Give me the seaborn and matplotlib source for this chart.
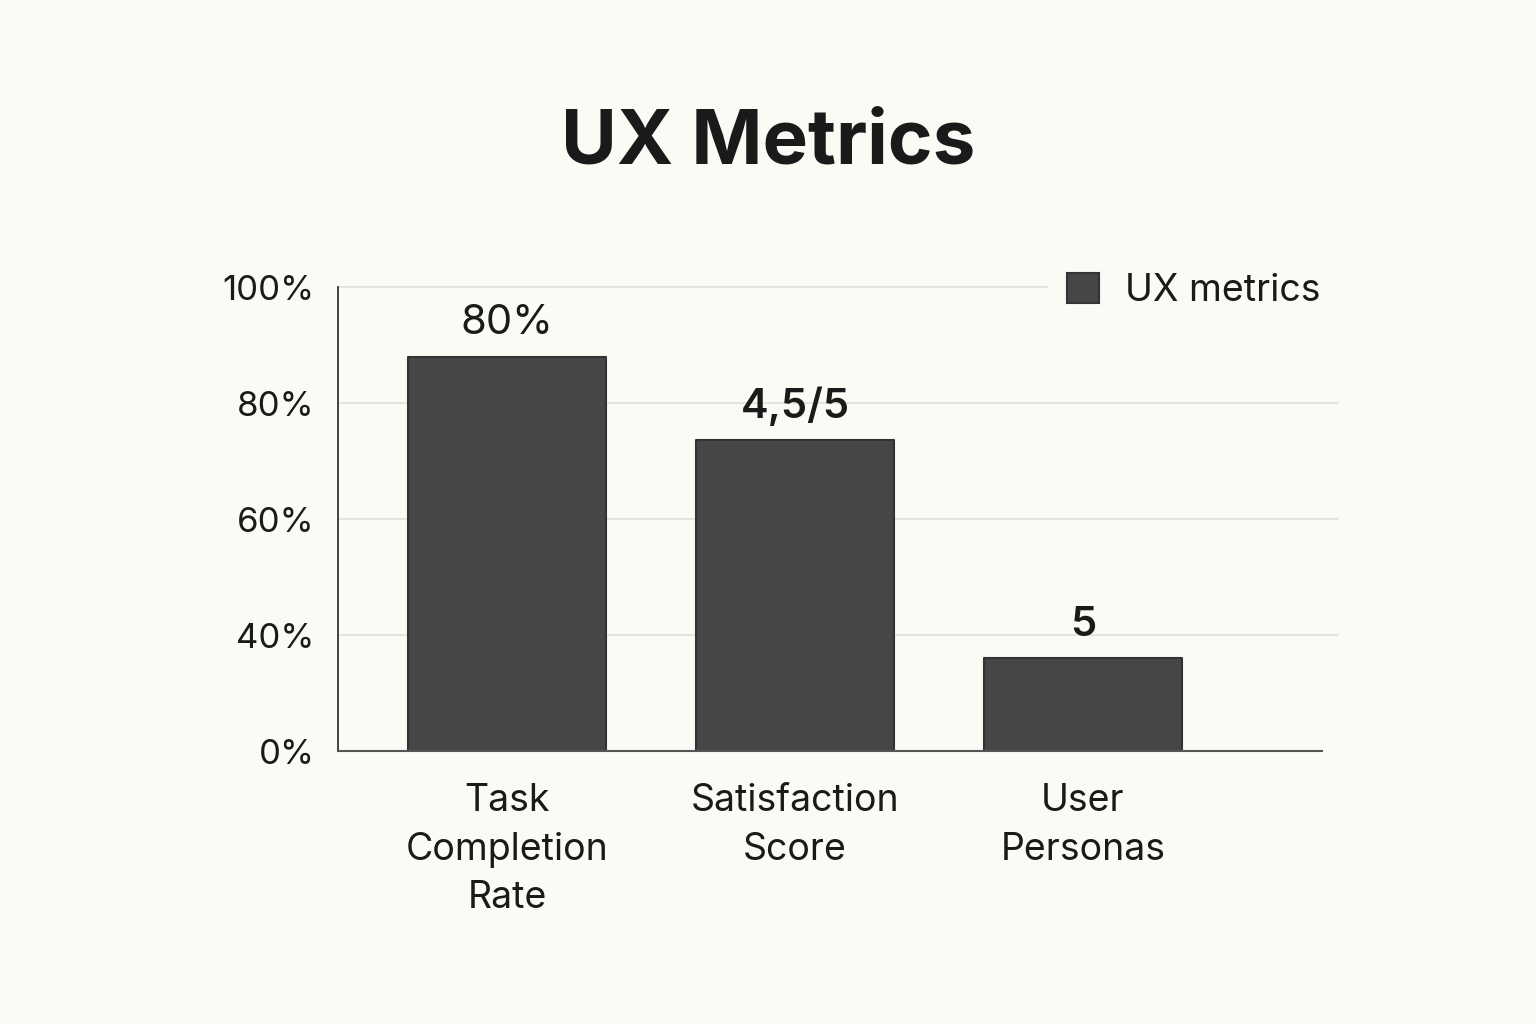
import matplotlib
matplotlib.use('Agg')
import matplotlib.pyplot as plt
import seaborn as sns

categories = ['Task\nCompletion\nRate', 'Satisfaction\nScore', 'User\nPersonas']
values = [85, 67, 20]
bar_labels = ['80%', '4,5/5', '5']
label_weights = ['normal', 'semibold', 'semibold']
tick_positions = [0, 25, 50, 75, 100]
tick_labels = ['0%', '40%', '60%', '80%', '100%']
series_name = 'UX metrics'

bg = '#fbfaf5'
bar_color = '#464646'
text_color = '#1a1a1a'

sns.set_theme(style='white')
plt.rcParams['font.family'] = ['Inter', 'DejaVu Sans']

fig = plt.figure(figsize=(15.36, 10.24), dpi=100, facecolor=bg)
ax = fig.add_axes([338 / 1536, 1 - 751 / 1024, (1322 - 338) / 1536, (751 - 287) / 1024])
ax.set_facecolor(bg)

sns.barplot(x=categories, y=values, color=bar_color, width=0.69, ax=ax,
            label=series_name, edgecolor='#333333', linewidth=1.5, zorder=3)
for p in ax.patches:
    p.set_joinstyle('round')

ax.set_xlim(-0.587, 2.83)
ax.set_ylim(0, 100)
ax.set_yticks(tick_positions)
ax.set_yticklabels(tick_labels)

# light gridlines that run a bit past the axis end
for t in tick_positions[1:]:
    ax.axhline(t, xmin=0, xmax=1.016, color='#e2e1dc', lw=1.3, zorder=0, clip_on=False)

for sp in ['top', 'right']:
    ax.spines[sp].set_visible(False)
ax.spines['left'].set_color('#222222')
ax.spines['left'].set_linewidth(1.2)
ax.spines['bottom'].set_color('#555555')
ax.spines['bottom'].set_linewidth(1.5)
ax.spines['bottom'].set_zorder(4)

ax.tick_params(axis='y', length=0, pad=17, labelsize=25, labelcolor=text_color)
ax.tick_params(axis='x', length=0, pad=23, labelcolor=text_color)
for lbl in ax.get_xticklabels():
    lbl.set_fontsize(27)
    lbl.set_linespacing(1.45)

for p, txt, w in zip(ax.patches, bar_labels, label_weights):
    ax.annotate(txt, (p.get_x() + p.get_width() / 2, p.get_height()),
                xytext=(0, 16), textcoords='offset points', ha='center', va='baseline',
                fontsize=30, fontweight=w, color=text_color)

leg = ax.legend(loc='center right', bbox_to_anchor=(1.0175, 0.992), fontsize=27,
                frameon=True, facecolor=bg, edgecolor=bg, framealpha=1,
                handlelength=0.85, handleheight=0.85, handletextpad=0.7,
                borderpad=0.5, borderaxespad=0)
leg.set_zorder(5)
for t in leg.get_texts():
    t.set_color(text_color)

fig.text(0.5, 1 - 163 / 1024, 'UX Metrics', ha='center', va='baseline',
         fontsize=55, fontweight='bold', color=text_color)

fig.savefig('out.png', dpi=100, facecolor=bg)
